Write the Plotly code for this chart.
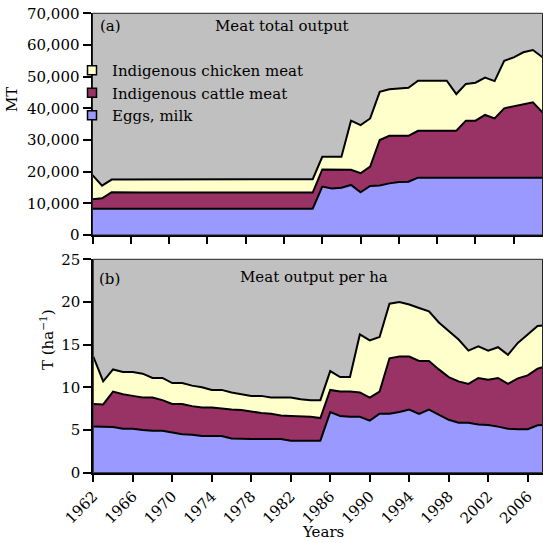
import plotly.graph_objects as go

# ---------------- data ----------------
years_top = list(range(1962, 2010))
# cumulative upper edges of the stacked areas, metric tonnes
eggs_milk_mt = [8300] * 24 + [15300, 14700, 14900, 15800, 13500, 15500, 15600, 16300,
                              16700, 16800] + [18100] * 14
eggs_cattle_mt = [11300, 11600, 13500] + [13400] * 21 + [20700, 20700, 20600, 20600, 19500,
                  21600, 30000, 31300, 31300, 31300, 32900, 32900, 32900, 32900, 32900,
                  36100, 36100, 37900, 36800, 40000, 40700, 41300, 41900, 38700]
total_mt = [18900, 15600] + [17500] * 21 + [17600, 24700, 24700, 24700, 36100, 34700, 36800,
            45200, 46000, 46300, 46500, 48700, 48700, 48700, 48700, 44500, 47700, 48100,
            49700, 48600, 55000, 56100, 57700, 58400, 56100]

years_bot = list(range(1962, 2009))
# cumulative upper edges, T per ha
eggs_milk_ha = [5.4, 5.35, 5.35, 5.15, 5.15, 5.0, 4.9, 4.9, 4.7, 4.5, 4.45, 4.3, 4.3, 4.3,
                4.0, 3.95, 3.95, 3.95, 3.95, 3.95, 3.75, 3.75, 3.75, 3.75, 7.1, 6.65, 6.55,
                6.55, 6.1, 6.9, 6.9, 7.1, 7.4, 6.9, 7.4, 6.75, 6.2, 5.85, 5.85, 5.65, 5.6,
                5.4, 5.15, 5.1, 5.1, 5.55, 5.6]
eggs_cattle_ha = [8.05, 8.0, 9.5, 9.2, 9.0, 8.8, 8.8, 8.5, 8.05, 8.05, 7.8, 7.65, 7.65, 7.5,
                  7.4, 7.35, 7.15, 7.0, 6.9, 6.7, 6.65, 6.6, 6.55, 6.4, 9.7, 9.5, 9.5, 9.4,
                  8.8, 9.5, 13.4, 13.6, 13.6, 13.1, 13.1, 12.1, 11.2, 10.7, 10.4, 11.1, 10.9,
                  11.1, 10.4, 11.05, 11.4, 12.2, 12.5]
total_ha = [13.6, 10.7, 12.1, 11.8, 11.8, 11.6, 11.1, 11.1, 10.5, 10.5, 10.2, 10.0, 9.7, 9.7,
            9.4, 9.2, 9.0, 9.0, 8.8, 8.8, 8.8, 8.6, 8.5, 8.5, 11.9, 11.2, 11.2, 16.2, 15.5,
            15.9, 19.8, 20.0, 19.7, 19.3, 18.9, 17.6, 16.6, 15.6, 14.3, 14.8, 14.3, 14.7,
            13.8, 15.2, 16.2, 17.2, 17.3]

series_names = ["Indigenous chicken meat", "Indigenous cattle meat", "Eggs, milk"]
series_colors = ["#FFFFCC", "#993366", "#9999FF"]

# ---------------- figure ----------------
FONT = "DejaVu Serif, Liberation Serif, serif"
FS = 15
W = H = 543
fig = go.Figure()

def add_stack(xs, eggs, cattle, total, xa, ya):
    for ys, col, fill in [(eggs, series_colors[2], "tozeroy"),
                          (cattle, series_colors[1], "tonexty"),
                          (total, series_colors[0], "tonexty")]:
        fig.add_trace(go.Scatter(x=xs, y=ys, mode="lines", fill=fill, fillcolor=col,
                                 line=dict(color="black", width=2), xaxis=xa, yaxis=ya,
                                 showlegend=False, hoverinfo="skip"))

add_stack(years_top, eggs_milk_mt, eggs_cattle_mt, total_mt, "x", "y")
add_stack(years_bot, eggs_milk_ha, eggs_cattle_ha, total_ha, "x2", "y2")

# legend entries (square swatches)
for name, col in zip(series_names, series_colors):
    fig.add_trace(go.Scatter(x=[None], y=[None], mode="markers", name=name,
                             marker=dict(symbol="square", size=9, color=col,
                                         line=dict(color="black", width=1.5)),
                             xaxis="x", yaxis="y"))

top_dom = [1 - 235 / H, 1 - 13.3 / H]
bot_dom = [1 - 472.7 / H, 1 - 259.3 / H]

axis_common = dict(showgrid=False, zeroline=False, showline=True, linecolor="black",
                   linewidth=2, ticks="outside", tickcolor="black", tickwidth=2,
                   automargin=False,
                   tickfont=dict(family=FONT, size=FS, color="black"))

fig.update_layout(
    width=W, height=H, margin=dict(l=0, r=0, t=0, b=0, autoexpand=False),
    paper_bgcolor="white", plot_bgcolor="#C0C0C0",
    font=dict(family=FONT, size=FS, color="black"),
    xaxis=dict(domain=[92.5 / W, 542.5 / W], range=[1962, 2009], tick0=1962, dtick=4,
               showticklabels=False, ticklen=7, anchor="y", **axis_common),
    yaxis=dict(domain=top_dom, range=[0, 70000], dtick=10000, tickformat=",d",
               ticklen=8, anchor="x", **axis_common),
    xaxis2=dict(domain=[93.3 / W, 542.5 / W], range=[1962, 2007.5], tick0=1962, dtick=4,
                tickangle=-45, ticklen=7, anchor="y2", **axis_common),
    yaxis2=dict(domain=bot_dom, range=[0, 25], dtick=5, ticklen=8, anchor="x2",
                **axis_common),
    legend=dict(x=72 / W, y=1 - 54 / H, xanchor="left", yanchor="top",
                bgcolor="rgba(0,0,0,0)", font=dict(family=FONT, size=FS),
                tracegroupgap=0, itemwidth=30, traceorder="normal"),
    showlegend=True,
)

# thin frame on top/right
for xa, ya in [("x", "y"), ("x2", "y2")]:
    fig.add_shape(type="rect", xref=f"{xa} domain", yref=f"{ya} domain", x0=0, x1=1,
                  y0=0, y1=1, line=dict(color="#222222", width=1), layer="above")

ann = [
    dict(text="(a)", x=98 / W, y=1 - 26 / H, xanchor="left"),
    dict(text="Meat total output", x=281.5 / W, y=1 - 26 / H, xanchor="center"),
    dict(text="(b)", x=97 / W, y=1 - 279 / H, xanchor="left"),
    dict(text="Meat output per ha", x=313.7 / W, y=1 - 277 / H, xanchor="center"),
    dict(text="MT", x=12 / W, y=1 - 100 / H, xanchor="center", textangle=-90),
    dict(text="T (ha<sup>−1</sup>)", x=47 / W, y=1 - 340 / H, xanchor="center",
         textangle=-90),
    dict(text="Years", x=322.5 / W, y=1 - 532 / H, xanchor="center"),
]
for a in ann:
    fig.add_annotation(xref="paper", yref="paper", yanchor="middle", showarrow=False,
                       font=dict(family=FONT, size=FS, color="black"), **a)

fig.write_html("out.html", config={"displayModeBar": False},
               post_script="document.body.style.margin='0px';"
                           "document.body.style.overflow='hidden';")
